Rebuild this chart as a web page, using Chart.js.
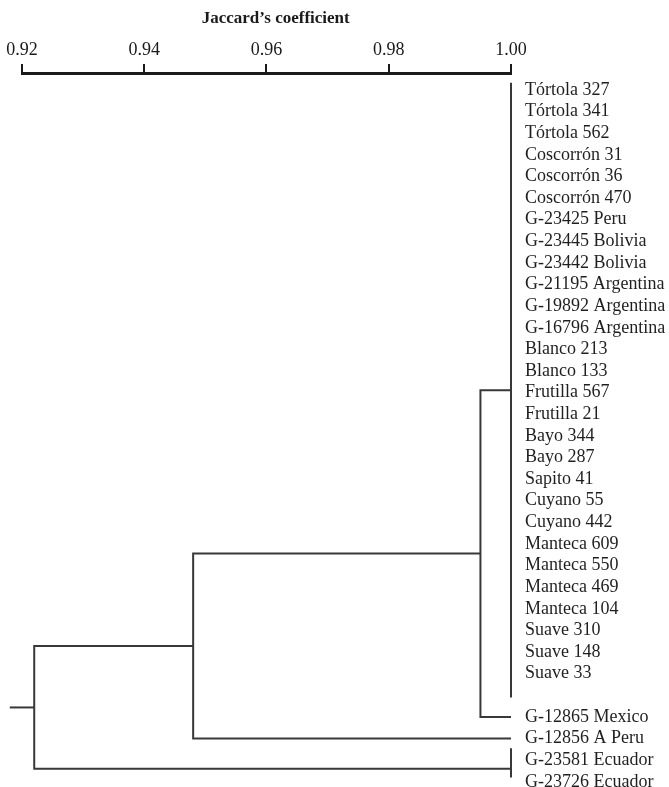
<!DOCTYPE html>
<html>
<head>
<meta charset="utf-8">
<title>Jaccard’s coefficient dendrogram</title>
<script src="https://cdn.jsdelivr.net/npm/chart.js@4.4.1/dist/chart.umd.min.js"></script>
<style>
  html, body { margin: 0; padding: 0; background: #ffffff; }
  canvas { display: block; }
</style>
</head>
<body>
<canvas id="dendro" width="669" height="787"></canvas>
<script>
// Accessions grouped at similarity 1.00
const groupA = [
  'Tórtola 327', 'Tórtola 341', 'Tórtola 562',
  'Coscorrón 31', 'Coscorrón 36', 'Coscorrón 470',
  'G-23425 Peru', 'G-23445 Bolivia', 'G-23442 Bolivia',
  'G-21195 Argentina', 'G-19892 Argentina', 'G-16796 Argentina',
  'Blanco 213', 'Blanco 133', 'Frutilla 567', 'Frutilla 21',
  'Bayo 344', 'Bayo 287', 'Sapito 41', 'Cuyano 55', 'Cuyano 442',
  'Manteca 609', 'Manteca 550', 'Manteca 469', 'Manteca 104',
  'Suave 310', 'Suave 148', 'Suave 33'
];
const singles = ['G-12865 Mexico', 'G-12856 A Peru'];
const groupB = ['G-23581 Ecuador', 'G-23726 Ecuador'];

// Similarity inside each group and at each successive merge
const groupLevels = [1.00, 1.00];          // groupA, groupB
const joinLevels = [0.995, 0.948, 0.922];  // +Mexico, +A Peru, +groupB (root)
const rootStub = 0.918;

// Axis tick values
const axisTicks = [0.92, 0.94, 0.96, 0.98, 1.00];

// One row per label; an empty row separates groupA from the rest
const rowLabels = [...groupA, '', ...singles, ...groupB];
const rowOf = name => rowLabels.indexOf(name);

// Vertical bars joining each identical group (row extents)
const aTop = rowOf(groupA[0]) - 0.33;
const aBottom = rowOf(groupA[groupA.length - 1]) + 1.1;
const bTop = rowOf(groupB[0]) - 0.55;
const bBottom = rowOf(groupB[1]) - 0.2;

const aNode = (aTop + aBottom) / 2;
const bNode = (rowOf(groupB[0]) + rowOf(groupB[1])) / 2 - 0.1;
const mexRow = rowOf(singles[0]);
const peruRow = rowOf(singles[1]);
const node1 = (aNode + mexRow) / 2;
const node2 = (node1 + peruRow) / 2;
const root = (node2 + bNode) / 2;

const ink = '#383838';
const seg = pts => ({
  data: pts.map(([x, y]) => ({ x, y })),
  showLine: true,
  borderColor: ink,
  borderWidth: 2,
  pointRadius: 0,
  pointHoverRadius: 0,
  tension: 0,
  fill: false,
  clip: false
});

const datasets = [
  seg([[groupLevels[0], aTop], [groupLevels[0], aBottom]]),
  seg([[groupLevels[1], bTop], [groupLevels[1], bBottom]]),
  seg([[groupLevels[0], aNode], [joinLevels[0], aNode], [joinLevels[0], mexRow], [1.00, mexRow]]),
  seg([[joinLevels[0], node1], [joinLevels[1], node1], [joinLevels[1], peruRow], [1.00, peruRow]]),
  seg([[joinLevels[1], node2], [joinLevels[2], node2], [joinLevels[2], bNode], [groupLevels[1], bNode]]),
  seg([[joinLevels[2], root], [rootStub, root]])
];

// Heading drawn above the similarity axis
const captionPlugin = {
  id: 'caption',
  afterDraw(chart, args, opts) {
    const { ctx } = chart;
    const xs = chart.scales.x;
    ctx.save();
    ctx.font = 'bold 17px "Liberation Serif"';
    ctx.fillStyle = '#1a1a1a';
    ctx.textAlign = 'center';
    ctx.textBaseline = 'middle';
    ctx.fillText(opts.text, xs.getPixelForValue(opts.at), opts.y);
    ctx.restore();
  }
};

new Chart(document.getElementById('dendro'), {
  type: 'scatter',
  data: { datasets },
  options: {
    responsive: false,
    animation: false,
    devicePixelRatio: 1,
    events: [],
    layout: { padding: { left: 22, right: 0, top: 0, bottom: 0 } },
    plugins: {
      legend: { display: false },
      tooltip: { enabled: false },
      caption: { text: 'Jaccard’s coefficient', at: 0.9615, y: 19 }
    },
    scales: {
      x: {
        type: 'linear',
        position: 'top',
        min: 0.92,
        max: 1.00,
        afterBuildTicks: s => { s.ticks = axisTicks.map(v => ({ value: v })); },
        afterFit: s => { s.height = 73; s.paddingLeft = 0; s.paddingRight = 0; },
        grid: { drawOnChartArea: false, drawTicks: true, tickLength: 9, lineWidth: 2, color: '#1a1a1a' },
        border: { display: true, width: 3, color: '#1a1a1a' },
        ticks: {
          font: { family: 'Liberation Serif', size: 18 },
          color: '#1a1a1a',
          padding: 3,
          maxRotation: 0,
          autoSkip: false,
          callback: v => Number(v).toFixed(2)
        }
      },
      y: {
        type: 'linear',
        position: 'right',
        reverse: true,
        min: -0.786,
        max: 32.24,
        afterBuildTicks: s => { s.ticks = rowLabels.map((_, i) => ({ value: i })); },
        afterFit: s => { s.width = 158; s.paddingTop = 0; s.paddingBottom = 0; },
        grid: { display: false, drawTicks: false },
        border: { display: false },
        ticks: {
          font: { family: 'Liberation Serif', size: 18 },
          color: '#1f1f1f',
          padding: 14,
          autoSkip: false,
          callback: v => rowLabels[v] || ''
        }
      }
    }
  },
  plugins: [captionPlugin]
});
</script>
</body>
</html>
